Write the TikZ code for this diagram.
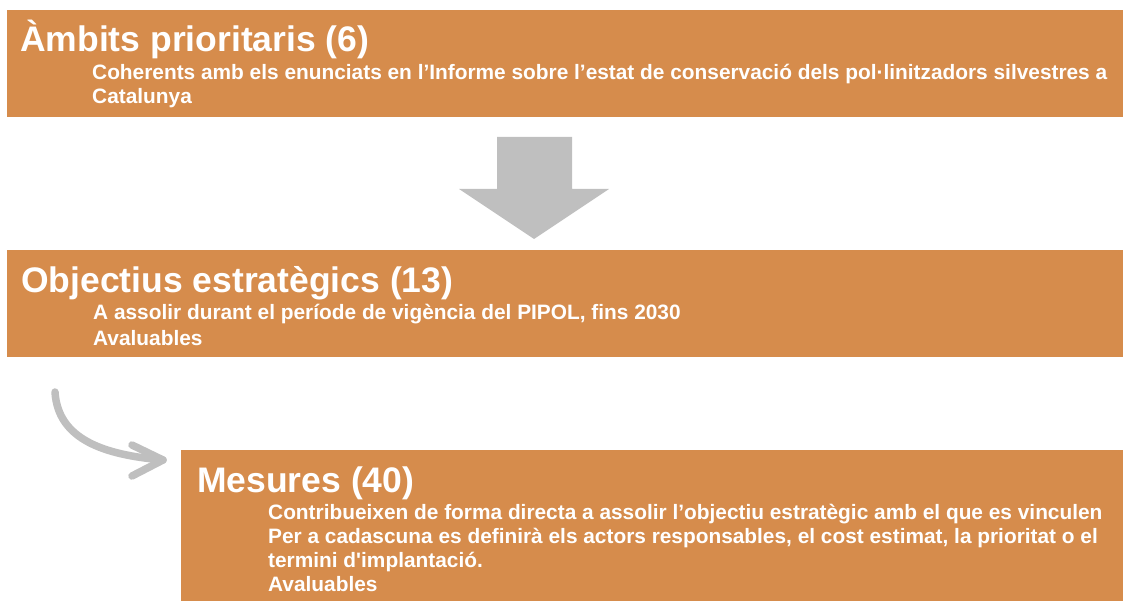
\documentclass[tikz,border=0pt]{standalone}
\usepackage{fontspec}
\setmainfont{Liberation Sans}[Ligatures=TeXOff]
\definecolor{boxorange}{RGB}{214,140,76}
\definecolor{arrowgray}{RGB}{191,191,191}
\tikzset{
  box/.style={fill=boxorange, draw=none, anchor=north west, inner sep=0pt, outer sep=0pt},
  title/.style={anchor=base west, inner sep=0pt, text=white, font=\bfseries\fontsize{35.5}{40}\selectfont},
  sub/.style={anchor=base west, inner sep=0pt, text=white, font=\bfseries\fontsize{20.85}{24}\selectfont},
  bigarrow/.style={fill=arrowgray, draw=none},
  curvearrow/.style={draw=arrowgray, line width=7.5pt, line cap=round, line join=round}
}
\begin{document}
\begin{tikzpicture}[x=1pt,y=-1pt]
\useasboundingbox (0,0) rectangle (1123,601);
% boxes
\node[box, minimum width=1116pt, minimum height=107pt] (b1) at (7,10) {};
\node[box, minimum width=1116pt, minimum height=107pt] (b2) at (7,250) {};
\node[box, minimum width=942pt, minimum height=151pt] (b3) at (181,450) {};
% titles and texts
\node[title] (t1) at (20,52) {Àmbits prioritaris (6)};
\node[sub] (s1a) at (92,80) {Coherents amb els enunciats en l’Informe sobre l’estat de conservació dels pol·linitzadors silvestres a};
\node[sub] (s1b) at (92,104) {Catalunya};
\node[title] (t2) at (21,292) {Objectius estratègics (13)};
\node[sub] (s2a) at (93,319) {A assolir durant el període de vigència del PIPOL, fins 2030};
\node[sub] (s2b) at (93,345) {Avaluables};
\node[title] (t3) at (197,492) {Mesures (40)};
\node[sub] (s3a) at (268,519) {Contribueixen de forma directa a assolir l’objectiu estratègic amb el que es vinculen};
\node[sub] (s3b) at (268,543) {Per a cadascuna es definirà els actors responsables, el cost estimat, la prioritat o el};
\node[sub] (s3c) at (268,567) {termini d'implantació.};
\node[sub] (s3d) at (268,591) {Avaluables};
% big down arrow
\fill[bigarrow] (497,137) -- (572,137) -- (572,189) -- (609,189) -- (534,239) -- (459,189) -- (497,189) -- cycle;
% curved arrow
\coordinate (cs) at (55,392);
\coordinate (ce) at (163,460);
\draw[curvearrow] (cs) .. controls (58,440) and (105,455) .. (ce);
\draw[curvearrow] (132,445) -- (ce) -- (132,476);
\end{tikzpicture}
\end{document}
